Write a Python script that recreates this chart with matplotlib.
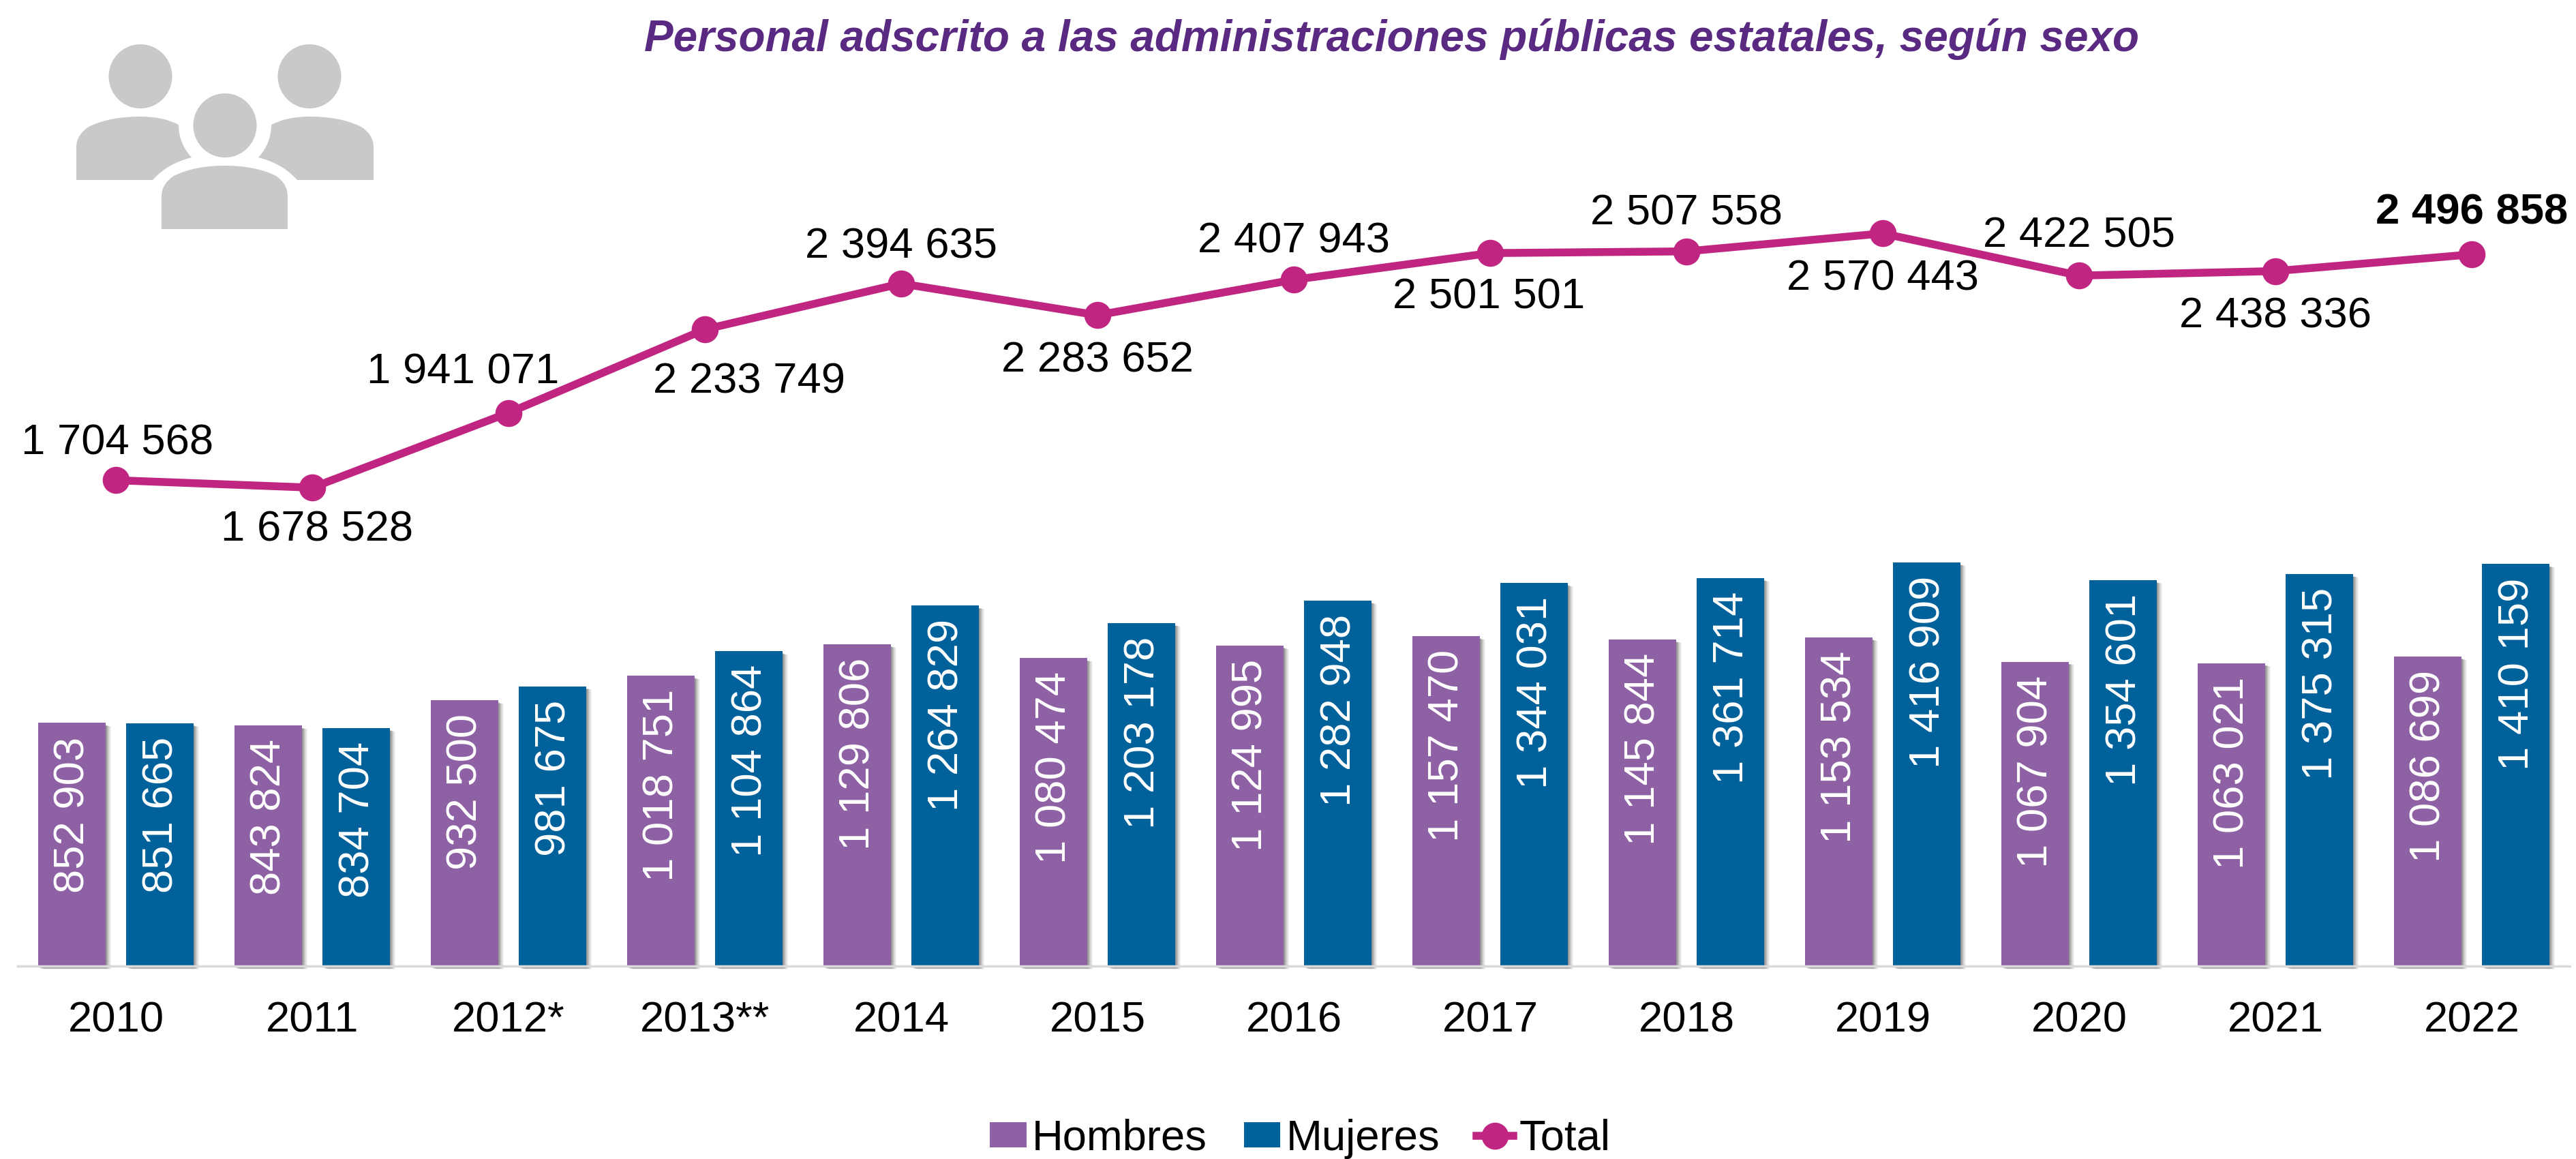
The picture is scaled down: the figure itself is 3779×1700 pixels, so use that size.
import matplotlib
matplotlib.use("Agg")
import matplotlib.pyplot as plt
import matplotlib.patheffects as pe
from matplotlib.lines import Line2D
from matplotlib.patches import Patch, PathPatch, Ellipse
from matplotlib.path import Path
import numpy as np

W, H, DPI = 3779, 1700, 100
plt.rcParams['font.family'] = ['Liberation Sans', 'DejaVu Sans']

years = ['2010', '2011', '2012*', '2013**', '2014', '2015', '2016', '2017', '2018', '2019', '2020', '2021', '2022']
hombres = [852903, 843824, 932500, 1018751, 1129806, 1080474, 1124995, 1157470, 1145844, 1153534, 1067904, 1063021, 1086699]
mujeres = [851665, 834704, 981675, 1104864, 1264829, 1203178, 1282948, 1344031, 1361714, 1416909, 1354601, 1375315, 1410159]
total = [1704568, 1678528, 1941071, 2233749, 2394635, 2283652, 2407943, 2501501, 2507558, 2570443, 2422505, 2438336, 2496858]
series_names = ['Hombres', 'Mujeres', 'Total']
title = 'Personal adscrito a las administraciones públicas estatales, según sexo'

C_H, C_M, C_T = '#8E61A4', '#01629B', '#C02582'
C_TITLE, C_ICON, C_AXIS = '#5A2A82', '#C9C9C9', '#D9D9D9'
FS = 45.6
fmt = lambda v: f'{v:,}'.replace(',', ' ')

fig = plt.figure(figsize=(W / DPI, H / DPI), dpi=DPI, facecolor='white')
BASE_PX, LEFT_PX, RIGHT_PX = 1417, 26, 3770
ax = fig.add_axes([LEFT_PX / W, 1 - BASE_PX / H, (RIGHT_PX - LEFT_PX) / W, BASE_PX / H])
ax.set_facecolor('none')
x = np.arange(len(years))
ax.set_xlim(-0.5, len(years) - 0.5)
ax.set_ylim(0, BASE_PX * 2392)

bw, off = 0.344, 0.224
shadow = [pe.SimplePatchShadow(offset=(5.5, -3.5), shadow_rgbFace='#000000', alpha=0.06),
          pe.SimplePatchShadow(offset=(4.3, -3.2), shadow_rgbFace='#000000', alpha=0.10),
          pe.SimplePatchShadow(offset=(3.0, -2.8), shadow_rgbFace='#000000', alpha=0.14),
          pe.SimplePatchShadow(offset=(1.7, -2.4), shadow_rgbFace='#000000', alpha=0.18),
          pe.Normal()]
for vals, pos, col in ((hombres, x - off, C_H), (mujeres, x + off, C_M)):
    bars = ax.bar(pos, vals, bw, color=col, zorder=2, clip_on=False)
    for b, v, p in zip(bars, vals, pos):
        b.set_path_effects(shadow)
        ax.annotate(fmt(v), (p, v), xytext=(2, -20), textcoords='offset pixels', rotation=90,
                    ha='center', va='top', color='white', fontsize=FS, zorder=3)

ax.plot(x, total, color=C_T, lw=8.3, marker='o', ms=27.5, zorder=4, clip_on=False, solid_capstyle='round')

# label offsets of the total series, in reference pixels
lab_dx = [2, 7, -67, 65, 0, 0, 0, -2, 0, 0, 0, 0, 0]
lab_dy = [54, -62, 60, -77, 54, -67, 56, -65, 56, -67, 58, -66, 61]
for i, v in enumerate(total):
    ax.annotate(fmt(v), (x[i], v), xytext=(lab_dx[i], lab_dy[i]), textcoords='offset pixels',
                ha='center', va='center', color='black', fontsize=FS, zorder=5,
                fontweight='bold' if i == len(total) - 1 else 'normal')

for s in ('top', 'left', 'right'):
    ax.spines[s].set_visible(False)
ax.spines['bottom'].set_color(C_AXIS)
ax.spines['bottom'].set_linewidth(2.5)
ax.set_yticks([])
ax.set_xticks(x, years)
ax.tick_params(axis='x', length=0, pad=36, labelsize=FS, labelcolor='black')

handles = [Patch(facecolor=C_H, edgecolor='none'), Patch(facecolor=C_M, edgecolor='none'),
           Line2D([], [], color=C_T, lw=8.3, marker='o', ms=27.5)]
ax.legend(handles, series_names, loc='center', bbox_to_anchor=(1907 / W, 1 - 1670 / H),
          bbox_transform=fig.transFigure, ncol=3, frameon=False, fontsize=FS, borderpad=0,
          handlelength=0.85, handleheight=0.52, handletextpad=0.13, columnspacing=0.85)

fig.text(2042 / W, 1 - 57 / H, title, ha='center', va='center', color=C_TITLE,
         fontsize=46, fontweight='bold', fontstyle='italic')

# people icon, drawn in figure pixels
ic = fig.add_axes([0, 0, 1, 1], facecolor='none', zorder=-1)
ic.set_xlim(0, W); ic.set_ylim(H, 0); ic.axis('off')
for cx, cy in ((206, 112), (454, 112), (330, 184)):
    ic.add_patch(Ellipse((cx, cy), 93, 94, fc=C_ICON, ec='none'))
M, L, C, Z = Path.MOVETO, Path.LINETO, Path.CURVE3, Path.CLOSEPOLY
center = [(237, 336), (237, 288), (237, 270), (255, 258), (285, 243), (330, 243), (375, 243), (405, 258),
          (422, 270), (422, 288), (422, 336), (237, 336)]
center_c = [M, L, C, C, C, C, C, C, C, C, L, Z]
ic.add_patch(PathPatch(Path(center, center_c), fc=C_ICON, ec='none'))
left = [(112, 264), (112, 216), (112, 198), (130, 186), (160, 171), (206, 171), (240, 171), (262, 183),
        (262, 210), (281, 231), (245, 240), (224, 264), (112, 264)]
left_c = [M, L, C, C, C, C, C, L, C, L, C, C, Z]
ic.add_patch(PathPatch(Path(left, left_c), fc=C_ICON, ec='none'))
right = [(2 * 330 - a, b) for a, b in left]
ic.add_patch(PathPatch(Path(right, left_c), fc=C_ICON, ec='none'))

fig.savefig('out.png', dpi=DPI, facecolor='white')
